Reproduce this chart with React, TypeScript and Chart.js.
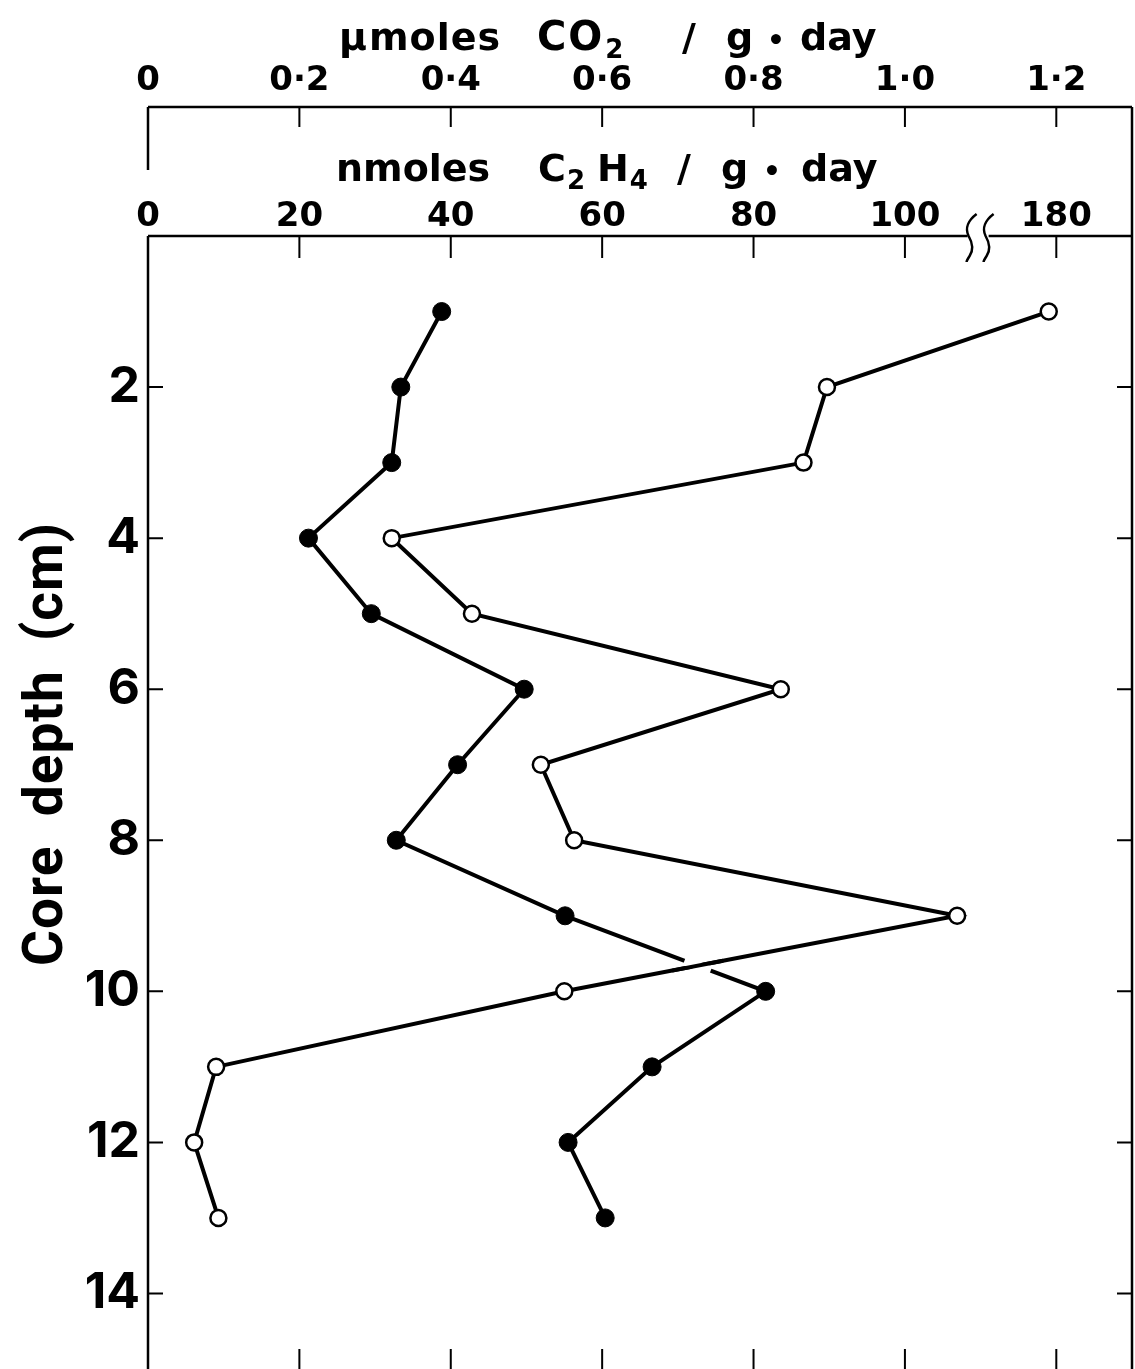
import React, { useEffect, useRef } from "react";
import { Chart, registerables } from "chart.js";

Chart.register(...registerables);

const LABEL_FONT = "'DejaVu Sans', sans-serif";
const DEPTH_FONT = "Inter, 'DejaVu Sans', sans-serif";
const SIDE_FONT = "Roboto, 'DejaVu Sans', sans-serif";

// Sample depth in the core (cm)
const depths = [1, 2, 3, 4, 5, 6, 7, 8, 9, 10, 11, 12, 13];
// CO2 evolution, µmoles CO2 / g · day (filled circles)
const co2Rates = [0.388, 0.334, 0.322, 0.212, 0.295, 0.497, 0.409, 0.328, 0.551, 0.816, 0.666, 0.555, 0.604];
// Ethylene production, nmoles C2H4 / g · day (open circles)
const c2h4Rates = [179, 89.7, 86.6, 32.2, 42.8, 83.6, 51.9, 56.3, 106.9, 55.0, 9.0, 6.1, 9.3];

const depthTicks = [2, 4, 6, 8, 10, 12, 14];
const co2Ticks = [0, 0.2, 0.4, 0.6, 0.8, 1.0, 1.2];
const c2h4Ticks = [0, 20, 40, 60, 80, 100, 180];

// The C2H4 axis is broken: the stretch from 110 to 170 is cut out.
const BREAK_AT = 110;
const BREAK_GAP = 60;
const toBroken = (v: number) => (v > BREAK_AT ? v - BREAK_GAP : v);

// Title pieces. A piece without x follows the previous one (subscripts).
type Piece = { text: string; x?: number; size: number; sub?: boolean; ls?: number; center?: boolean };

const co2Title: Piece[] = [
  { text: "µ", x: 339, size: 38 },
  { text: "moles", x: 369, size: 38, ls: 1 },
  { text: "CO", x: 537, size: 40, ls: 2 },
  { text: "2", size: 26, sub: true },
  { text: "/", x: 682, size: 38 },
  { text: "g", x: 726, size: 38 },
  { text: "•", x: 776, size: 28, center: true },
  { text: "day", x: 800, size: 38 },
];

const c2h4Title: Piece[] = [
  { text: "nmoles", x: 336, size: 38 },
  { text: "C", x: 538, size: 38 },
  { text: "2", size: 26, sub: true },
  { text: "H", x: 597, size: 38 },
  { text: "4", size: 26, sub: true },
  { text: "/", x: 677, size: 38 },
  { text: "g", x: 721, size: 38 },
  { text: "•", x: 772, size: 28, center: true },
  { text: "day", x: 801, size: 38 },
];

function drawPieces(ctx: CanvasRenderingContext2D, pieces: Piece[], baseline: number) {
  ctx.textBaseline = "alphabetic";
  let cursor = 0;
  pieces.forEach((p) => {
    ctx.font = `bold ${p.size}px ${LABEL_FONT}`;
    (ctx as any).letterSpacing = `${p.ls || 0}px`;
    const w = ctx.measureText(p.text).width;
    const left = p.x !== undefined ? p.x : cursor + 1;
    const y = baseline + (p.sub ? 8 : 0);
    if (p.center) {
      ctx.textAlign = "center";
      ctx.fillText(p.text, left, y);
      cursor = left + w / 2;
    } else {
      ctx.textAlign = "left";
      ctx.fillText(p.text, left, y);
      cursor = left + w;
    }
  });
  (ctx as any).letterSpacing = "0px";
}

function squiggle(ctx: CanvasRenderingContext2D, x: number, y: number) {
  ctx.beginPath();
  ctx.moveTo(x + 6, y - 22);
  ctx.bezierCurveTo(x - 2, y - 16, x - 6, y - 8, x - 2, y);
  ctx.bezierCurveTo(x + 2, y + 7, x + 3, y + 14, x - 1, y + 20);
  ctx.bezierCurveTo(x - 3, y + 23, x - 4, y + 25, x - 4, y + 26);
  ctx.stroke();
}

const framePlugin = {
  id: "frame",
  afterDraw(chart: any) {
    const { ctx, chartArea: ca, scales } = chart;
    const x = scales.x;
    const x2 = scales.x2;
    const y = scales.y;
    const { top, bottom, left, right } = ca;
    const co2Line = x2.bottom;
    const breakX = x.getPixelForValue(BREAK_AT);

    ctx.save();
    ctx.strokeStyle = "#000";
    ctx.fillStyle = "#000";
    ctx.lineWidth = 2.5;
    ctx.beginPath();
    ctx.moveTo(left, top);
    ctx.lineTo(breakX - 13, top);
    ctx.moveTo(breakX + 8, top);
    ctx.lineTo(right, top);
    ctx.moveTo(left, co2Line);
    ctx.lineTo(right, co2Line);
    ctx.moveTo(left, co2Line);
    ctx.lineTo(left, co2Line + 63);
    ctx.moveTo(left, top);
    ctx.lineTo(left, bottom);
    ctx.moveTo(right, co2Line);
    ctx.lineTo(right, bottom);
    ctx.stroke();

    ctx.lineWidth = 2;
    ctx.beginPath();
    co2Ticks.slice(1).forEach((v) => {
      const px = x2.getPixelForValue(v);
      ctx.moveTo(px, co2Line);
      ctx.lineTo(px, co2Line + 20);
    });
    c2h4Ticks.slice(1).forEach((v) => {
      const px = x.getPixelForValue(toBroken(v));
      ctx.moveTo(px, top);
      ctx.lineTo(px, top + 22);
      ctx.moveTo(px, bottom);
      ctx.lineTo(px, bottom - 20);
    });
    depthTicks.forEach((v) => {
      const py = y.getPixelForValue(v);
      ctx.moveTo(left, py);
      ctx.lineTo(left + 15, py);
      ctx.moveTo(right, py);
      ctx.lineTo(right - 15, py);
    });
    ctx.stroke();

    ctx.lineWidth = 2.5;
    squiggle(ctx, breakX - 10, top);
    squiggle(ctx, breakX + 7, top);

    // axis titles
    drawPieces(ctx, co2Title, 50);
    drawPieces(ctx, c2h4Title, 181);

    ctx.save();
    ctx.translate(62, 744);
    ctx.rotate(-Math.PI / 2);
    ctx.font = `bold 55px ${SIDE_FONT}`;
    (ctx as any).letterSpacing = "1px";
    ctx.textAlign = "center";
    ctx.textBaseline = "alphabetic";
    ctx.fillText("Core  depth  (cm)", 0, 0);
    (ctx as any).letterSpacing = "0px";
    ctx.restore();

    ctx.restore();
  },
};

// Where the two profiles cross, the line underneath is interrupted.
const crossingPlugin = {
  id: "crossing",
  afterDatasetsDraw(chart: any) {
    const ctx = chart.ctx;
    const under = chart.getDatasetMeta(0).data;
    const over = chart.getDatasetMeta(1).data;
    for (let i = 0; i < under.length - 1; i++) {
      for (let j = 0; j < over.length - 1; j++) {
        const a1 = under[i], a2 = under[i + 1], b1 = over[j], b2 = over[j + 1];
        const dax = a2.x - a1.x, day = a2.y - a1.y;
        const dbx = b2.x - b1.x, dby = b2.y - b1.y;
        const den = dax * dby - day * dbx;
        if (Math.abs(den) < 1e-6) continue;
        const t = ((b1.x - a1.x) * dby - (b1.y - a1.y) * dbx) / den;
        const u = ((b1.x - a1.x) * day - (b1.y - a1.y) * dax) / den;
        if (t <= 0.05 || t >= 0.95 || u <= 0.05 || u >= 0.95) continue;
        const cx = a1.x + t * dax, cy = a1.y + t * day;
        const la = Math.hypot(dax, day), lb = Math.hypot(dbx, dby);
        ctx.save();
        ctx.strokeStyle = "#fff";
        ctx.lineWidth = 9;
        ctx.beginPath();
        ctx.moveTo(cx - (dax / la) * 14, cy - (day / la) * 14);
        ctx.lineTo(cx + (dax / la) * 14, cy + (day / la) * 14);
        ctx.stroke();
        ctx.strokeStyle = "#000";
        ctx.lineWidth = 4;
        ctx.beginPath();
        ctx.moveTo(cx - (dbx / lb) * 26, cy - (dby / lb) * 26);
        ctx.lineTo(cx + (dbx / lb) * 26, cy + (dby / lb) * 26);
        ctx.stroke();
        ctx.restore();
      }
    }
  },
};

const noPadding = (s: any) => {
  s.paddingLeft = 0;
  s.paddingRight = 0;
  s.paddingTop = 0;
  s.paddingBottom = 0;
};

export default function App() {
  const ref = useRef<HTMLCanvasElement>(null);

  useEffect(() => {
    const canvas = ref.current;
    if (!canvas) return;
    const tickFont = { family: LABEL_FONT, size: 34, weight: "bold" as const };
    const chart = new Chart(canvas, {
      type: "scatter",
      data: {
        datasets: [
          {
            label: "CO2",
            data: depths.map((d, i) => ({ x: co2Rates[i], y: d })),
            xAxisID: "x2",
            yAxisID: "y",
            showLine: true,
            borderColor: "#000",
            borderWidth: 4,
            pointRadius: 9,
            pointBackgroundColor: "#000",
            pointBorderColor: "#000",
            pointBorderWidth: 1,
          },
          {
            label: "C2H4",
            data: depths.map((d, i) => ({ x: toBroken(c2h4Rates[i]), y: d })),
            xAxisID: "x",
            yAxisID: "y",
            showLine: true,
            borderColor: "#000",
            borderWidth: 4,
            pointRadius: 8,
            pointBackgroundColor: "#fff",
            pointBorderColor: "#000",
            pointBorderWidth: 2.5,
          },
        ],
      },
      options: {
        responsive: false,
        animation: false,
        devicePixelRatio: 1,
        layout: { autoPadding: false, padding: { left: 0, right: 3, top: 0, bottom: 0 } },
        plugins: { legend: { display: false }, tooltip: { enabled: false } },
        scales: {
          y: {
            type: "linear",
            position: "left",
            reverse: true,
            min: 0,
            max: 15,
            afterBuildTicks: (s: any) => {
              s.ticks = depthTicks.map((v) => ({ value: v }));
            },
            afterFit: (s: any) => {
              s.width = 148;
              noPadding(s);
            },
            grid: { display: false, drawTicks: false },
            border: { display: false },
            ticks: { padding: 8, color: "#000", font: { family: DEPTH_FONT, size: 50, weight: "bold" } },
          },
          x: {
            type: "linear",
            position: "top",
            min: 0,
            max: 130,
            weight: 0,
            afterBuildTicks: (s: any) => {
              s.ticks = c2h4Ticks.map((v) => ({ value: toBroken(v) }));
            },
            afterFit: (s: any) => {
              s.height = 129;
              noPadding(s);
            },
            grid: { display: false, drawTicks: false },
            border: { display: false },
            ticks: {
              autoSkip: false,
              maxRotation: 0,
              minRotation: 0,
              padding: -2,
              color: "#000",
              font: tickFont,
              callback: (_v: any, i: number) => String(c2h4Ticks[i]),
            },
          },
          x2: {
            type: "linear",
            position: "top",
            min: 0,
            max: 1.3,
            weight: 1,
            afterBuildTicks: (s: any) => {
              s.ticks = co2Ticks.map((v) => ({ value: v }));
            },
            afterFit: (s: any) => {
              s.height = 107;
              noPadding(s);
            },
            grid: { display: false, drawTicks: false },
            border: { display: false },
            ticks: {
              autoSkip: false,
              maxRotation: 0,
              minRotation: 0,
              padding: 5,
              color: "#000",
              font: tickFont,
              callback: (_v: any, i: number) =>
                i === 0 ? "0" : co2Ticks[i].toFixed(1).replace(".", "·"),
            },
          },
        },
      },
      plugins: [framePlugin, crossingPlugin],
    });
    return () => chart.destroy();
  }, []);

  return (
    <div
      style={{
        position: "fixed",
        left: 0,
        top: 0,
        width: 1135,
        height: 1369,
        overflow: "hidden",
        background: "#fff",
      }}
    >
      <canvas ref={ref} width={1135} height={1369} style={{ display: "block", width: 1135, height: 1369 }} />
    </div>
  );
}
